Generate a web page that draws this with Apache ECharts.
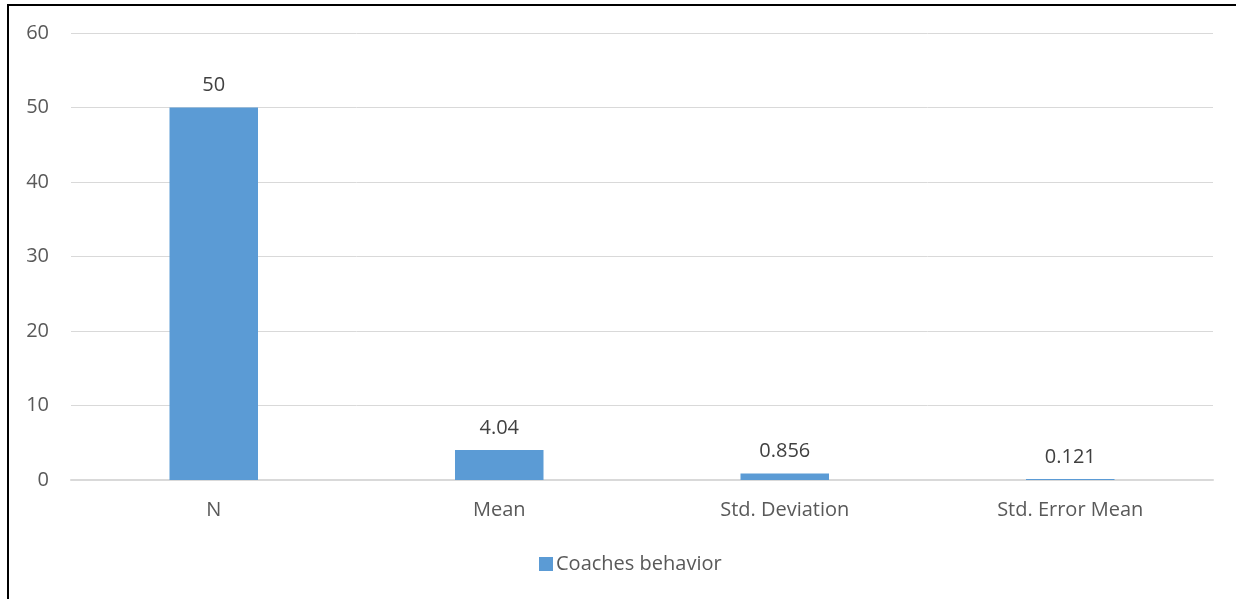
<!DOCTYPE html>
<html>
<head>
<meta charset="utf-8">
<script src="https://cdn.jsdelivr.net/npm/echarts@6/dist/echarts.min.js"></script>
<style>
  html, body { margin: 0; padding: 0; background: #fff; }
  #frame { position: absolute; left: 0; top: 0; width: 1236px; height: 599px; }
  #edgeTop { position: absolute; left: 7px; top: 4px; width: 1229px; height: 2px; background: #000; }
  #edgeLeft { position: absolute; left: 7px; top: 4px; width: 2px; height: 595px; background: #000; }
  #chart { position: absolute; left: 0; top: 0; width: 1236px; height: 599px; }
</style>
</head>
<body>
<div id="frame">
  <div id="chart"></div>
  <div id="edgeTop"></div>
  <div id="edgeLeft"></div>
</div>
<script>
// Descriptive statistics for coaches' behaviour
const categories = ['N', 'Mean', 'Std. Deviation', 'Std. Error Mean'];
const values = [50, 4.04, 0.856, 0.121];
const seriesName = 'Coaches behavior';
const yTicks = [0, 10, 20, 30, 40, 50, 60];

const font = '"Open Sans", "Liberation Sans", sans-serif';
const textColor = '#595959';

const chart = echarts.init(document.getElementById('chart'), null, { renderer: 'canvas' });
chart.setOption({
  animation: false,
  textStyle: { fontFamily: font },
  grid: { left: 71, right: 23, top: 33, bottom: 119, containLabel: false },
  legend: {
    data: [seriesName],
    bottom: 20,
    left: 534,
    icon: 'rect',
    itemWidth: 14,
    itemHeight: 14,
    itemGap: 5,
    textStyle: { color: textColor, fontSize: 20, fontFamily: font, padding: [0, 0, 0, -2] }
  },
  xAxis: {
    type: 'category',
    data: categories,
    axisLine: { show: true, lineStyle: { color: '#d9d9d9', width: 2 } },
    axisTick: { show: false },
    axisLabel: { color: textColor, fontSize: 20, margin: 20, fontFamily: font }
  },
  yAxis: {
    type: 'value',
    min: yTicks[0],
    max: yTicks[yTicks.length - 1],
    interval: yTicks[1] - yTicks[0],
    axisLine: { show: false },
    axisTick: { show: false },
    axisLabel: { color: textColor, fontSize: 20, margin: 22, fontFamily: font },
    splitLine: { lineStyle: { color: '#d9d9d9', width: 1 } }
  },
  series: [{
    name: seriesName,
    type: 'bar',
    data: values,
    barWidth: '31%',
    itemStyle: { color: '#5b9bd5' },
    label: {
      show: true,
      position: 'top',
      distance: 12,
      color: '#404040',
      fontSize: 20,
      fontFamily: font,
      formatter: p => String(p.value)
    }
  }]
});
</script>
</body>
</html>
